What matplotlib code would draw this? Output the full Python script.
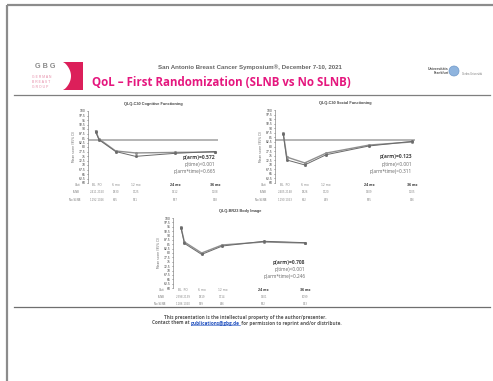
import numpy as np
import matplotlib.pyplot as plt
from matplotlib.patches import Polygon, Circle

W, H = 493, 381

# --- data ---
months = [0, 1, 6, 12, 24, 36]
col_months = [0.5, 6, 12, 24, 36]
col_heads = ["BL  PO", "6 mo", "12 mo", "24 mo", "36 mo"]

titles = ["QLQ-C30 Cognitive Functioning",
          "QLQ-C30 Social Functioning",
          "QLQ-BR23 Body Image"]

cog_slnb = [88.9, 84.5, 77.8, 76.7, 77.0, 77.2]
cog_noslnb = [88.5, 84.0, 77.5, 74.8, 76.5, 77.5]
soc_slnb = [87.4, 74.2, 71.0, 76.4, 80.8, 82.5]
soc_noslnb = [87.0, 72.6, 69.9, 75.5, 80.3, 82.8]
body_slnb = [94.9, 86.3, 80.0, 84.6, 86.3, 85.7]
body_noslnb = [94.5, 85.5, 79.2, 84.0, 86.7, 85.9]

ref_values = [83.9, 83.6, None]

p_arm = ["0.572", "0.123", "0.708"]
p_time = ["<0.001", "<0.001", "<0.001"]
p_armtime = ["0.665", "0.311", "0.246"]

n_slnb = [["2411 2150", "1830", "1725", "1412", "1108"],
          ["2405 2148", "1826", "1720", "1409", "1105"],
          ["2398 2139", "1819", "1714", "1401", "1099"]]
n_noslnb = [["1192 1066", "905", "851", "697", "548"],
            ["1190 1063", "902", "849", "695", "546"],
            ["1186 1060", "899", "846", "692", "543"]]

series = [(cog_slnb, cog_noslnb), (soc_slnb, soc_noslnb), (body_slnb, body_noslnb)]

# plot areas in pixels: x0, y0, x1, y1
boxes = [(88, 111, 218, 183), (275, 110, 415, 183), (173, 218, 308, 288)]

fig = plt.figure(figsize=(W / 100, H / 100), dpi=100)
bg = fig.add_axes([0, 0, 1, 1])
bg.set_xlim(0, W)
bg.set_ylim(H, 0)
bg.axis('off')

# slide frame
bg.plot([7, W], [5, 5], color='#8c8c8c', lw=1.6, solid_capstyle='butt')
bg.plot([7, 7], [5, H], color='#8c8c8c', lw=1.6, solid_capstyle='butt')
bg.plot([14, 490], [95, 95], color='#7f7f7f', lw=0.9)
bg.plot([14, 490], [307, 307], color='#6f6f6f', lw=0.9)

# GBG logo
bg.text(45, 66, "G B G", ha='center', va='center', fontsize=5.2,
        color='#8a8a8a', family='Liberation Sans', fontweight='bold')
for i, word in enumerate(["G E R M A N", "B R E A S T", "G R O U P"]):
    bg.text(32, 77 + i * 5, word, ha='left', va='center', fontsize=2.4,
            color='#e58aa6', family='Liberation Sans')
t = np.linspace(0, 1, 24)
left_edge = np.column_stack([63 + 8 * np.sin(np.pi * t) ** 0.7, 62 + 28 * t])
shape = np.vstack([[[83, 62]], left_edge, [[83, 90]]])
bg.add_patch(Polygon(shape, closed=True, fc='#dc1f5a', ec='none'))

bg.text(250, 67, "San Antonio Breast Cancer Symposium®, December 7-10, 2021",
        ha='center', va='center', fontsize=4.4, color='#666666',
        family='Liberation Sans', fontweight='bold')
bg.text(92, 82, "QoL – First Randomization (SLNB vs No SLNB)",
        ha='left', va='center', fontsize=8.3, color='#e5177e',
        family='Open Sans', fontweight='bold')

# university logo
bg.text(438, 69, "Universitäts", ha='center', va='center', fontsize=2.6,
        color='#555555', family='Liberation Sans', fontweight='bold')
bg.text(441, 73, "Frankfurt", ha='center', va='center', fontsize=2.4,
        color='#555555', family='Liberation Sans', fontweight='bold')
bg.add_patch(Circle((454, 71), 5, fc='#8fb4de', ec='#6f98c8', lw=0.5))
bg.text(462, 74, "Goethe-Universität", ha='left', va='center', fontsize=1.8,
        color='#777777', family='Liberation Sans')

# footer
foot = dict(va='center', fontsize=3.3, family='Open Sans', fontweight='bold')
bg.text(245, 317, "This presentation is the intellectual property of the author/presenter.",
        ha='center', color='#5a5a5a', **foot)
parts = [("Contact them at ", '#5a5a5a'), ("publications@gbg.de", '#1f4fbf'),
         (" for permission to reprint and/or distribute.", '#5a5a5a')]
renderer = fig.canvas.get_renderer()
x = 152
for txt, col in parts:
    tt = bg.text(x, 323, txt, ha='left', color=col, **foot)
    w = tt.get_window_extent(renderer).width
    if col == '#1f4fbf':
        bg.plot([x, x + w], [324.8, 324.8], color=col, lw=0.4)
    x += w

for k, (x0, y0, x1, y1) in enumerate(boxes):
    ax = fig.add_axes([x0 / W, 1 - y1 / H, (x1 - x0) / W, (y1 - y0) / H])
    ax.set_xlim(-2.3, 36.8)
    ax.set_ylim(60, 100)
    for s in ['top', 'right', 'bottom']:
        ax.spines[s].set_visible(False)
    ax.spines['left'].set_color('#888888')
    ax.spines['left'].set_linewidth(0.5)
    ax.set_xticks([])
    ax.set_yticks(np.arange(60, 100.1, 2.5))
    ax.set_yticklabels([f"{v:g}" for v in np.arange(60, 100.1, 2.5)])
    ax.tick_params(axis='y', labelsize=2.2, length=1, width=0.4,
                   colors='#333333', pad=0.8)
    ax.set_facecolor('none')
    ax.set_ylabel("Mean score (95% CI)", fontsize=2.2, color='#666666', labelpad=2)

    if ref_values[k] is not None:
        ax.axhline(ref_values[k], color='#a0a0a0', lw=1.1)

    a, b = series[k]
    ax.plot(months, a, color='#909090', lw=1.0, marker='o', ms=1.2)
    ax.plot(months, b, color='#6a6a6a', lw=0.7, marker='s', ms=1.0)

    ax.set_title(titles[k], fontsize=2.8, color='#444444', pad=4,
                 family='Liberation Sans', fontweight='bold')

    # p-values
    ax.text(0.98, 0.36, f"p(arm)={p_arm[k]}", transform=ax.transAxes,
            ha='right', va='center', fontsize=3.6, color='#444444',
            family='Open Sans', fontweight='bold')
    ax.text(0.98, 0.26, f"p(time){p_time[k]}", transform=ax.transAxes,
            ha='right', va='center', fontsize=3.4, color='#666666',
            family='Open Sans')
    ax.text(0.98, 0.16, f"p(arm*time)={p_armtime[k]}", transform=ax.transAxes,
            ha='right', va='center', fontsize=3.4, color='#666666',
            family='Open Sans')

    # numbers-at-risk table under the plot
    tr = ax.get_xaxis_transform()
    for row, lab in zip([-0.03, -0.13, -0.23], ["Visit", "SLNB", "No SLNB"]):
        ax.text(-0.06, row, lab, transform=ax.transAxes, ha='right',
                va='center', fontsize=1.9, color='#777777', clip_on=False)
    for j, m in enumerate(col_months):
        dark = j >= 3
        ax.text(m, -0.03, col_heads[j], transform=tr, ha='center', va='center',
                fontsize=2.2, color='#333333' if dark else '#888888',
                fontweight='bold' if dark else 'normal', clip_on=False)
        ax.text(m, -0.13, n_slnb[k][j], transform=tr, ha='center', va='center',
                fontsize=1.9, color='#888888', clip_on=False)
        ax.text(m, -0.23, n_noslnb[k][j], transform=tr, ha='center', va='center',
                fontsize=1.9, color='#888888', clip_on=False)

fig.savefig("out.png", dpi=100)
